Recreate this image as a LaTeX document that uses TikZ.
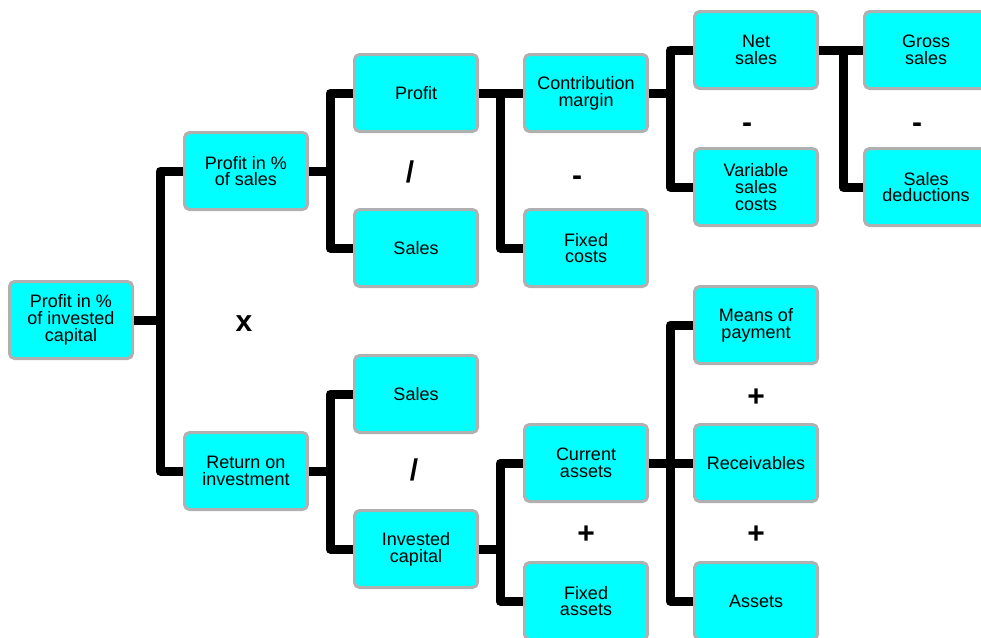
\documentclass[tikz,border=0pt]{standalone}
\usepackage{fontspec}
\setmainfont{Liberation Sans}
\begin{document}
\begin{tikzpicture}[x=1pt,y=-1pt,
  box/.style={rectangle, rounded corners=5pt, fill=boxfill, draw=boxline,
    line width=3pt, minimum width=123pt, minimum height=77pt, inner sep=0pt,
    align=center, font=\fontsize{18}{16.7}\selectfont},
  link/.style={line width=9pt, line join=round, draw=black},
  op/.style={font=\fontsize{30}{30}\selectfont\bfseries, inner sep=0pt}]
\definecolor{boxfill}{HTML}{00FFFF}
\definecolor{boxline}{HTML}{B0B0B0}
\useasboundingbox (0,0) rectangle (981,637);

% x positions of the vertical bus lines
\coordinate (b1) at (160,0);
\coordinate (b2) at (330,0);
\coordinate (b3) at (500,0);
\coordinate (b4) at (670,0);
\coordinate (b5) at (843,0);

% boxes
\node[box] (root) at (71,320) {Profit in \%\\of invested\\capital};
\node[box] (pos)  at (246,171) {Profit in \%\\of sales};
\node[box] (roi)  at (246,471) {Return on\\investment};
\node[box] (profit) at (416,93) {Profit};
\node[box] (salesA) at (416,248) {Sales};
\node[box] (salesB) at (416,394) {Sales};
\node[box] (ic) at (416,549) {Invested\\capital};
\node[box] (cm) at (586,93) {Contribution\\margin};
\node[box] (fc) at (586,248) {Fixed\\costs};
\node[box] (ca) at (586,463) {Current\\assets};
\node[box] (fa) at (586,601) {Fixed\\assets};
\node[box] (ns) at (756,50) {Net\\sales};
\node[box] (vsc) at (756,187) {Variable\\sales\\costs};
\node[box] (mop) at (756,325) {Means of\\payment};
\node[box] (rec) at (756,463) {Receivables};
\node[box] (ast) at (756,601) {Assets};
\node[box] (gs) at (926,50) {Gross\\sales};
\node[box] (sd) at (926,187) {Sales\\deductions};

% connectors
\draw[link] (root.east) -- (root.east -| b1);
\draw[link] (pos.west) -- (pos.west -| b1) -- (roi.west -| b1) -- (roi.west);

\draw[link] (pos.east) -- (pos.east -| b2);
\draw[link] (profit.west) -- (profit.west -| b2) -- (salesA.west -| b2) -- (salesA.west);

\draw[link] (profit.east) -- (cm.west);
\draw[link] (profit.east -| b3) -- (fc.west -| b3) -- (fc.west);

\draw[link] (cm.east) -- (cm.east -| b4);
\draw[link] (ns.west) -- (ns.west -| b4) -- (vsc.west -| b4) -- (vsc.west);

\draw[link] (ns.east) -- (gs.west);
\draw[link] (ns.east -| b5) -- (sd.west -| b5) -- (sd.west);

\draw[link] (roi.east) -- (roi.east -| b2);
\draw[link] (salesB.west) -- (salesB.west -| b2) -- (ic.west -| b2) -- (ic.west);

\draw[link] (ic.east) -- (ic.east -| b3);
\draw[link] (ca.west) -- (ca.west -| b3) -- (fa.west -| b3) -- (fa.west);

\draw[link] (ca.east) -- (rec.west);
\draw[link] (mop.west) -- (mop.west -| b4) -- (ast.west -| b4) -- (ast.west);

% operators between the boxes
\node[op] (opx)  at (244,324) {x};
\node[op] (opd1) at (410,172) {/};
\node[op] (opd2) at (414,470) {/};
\node[op] (opm1) at (577,181) {-};
\node[op] (opm2) at (747,128) {-};
\node[op] (opm3) at (917,128) {-};
\node[op] (opp1) at (586,535) {+};
\node[op] (opp2) at (756,398) {+};
\node[op] (opp3) at (756,535) {+};
\end{tikzpicture}
\end{document}
